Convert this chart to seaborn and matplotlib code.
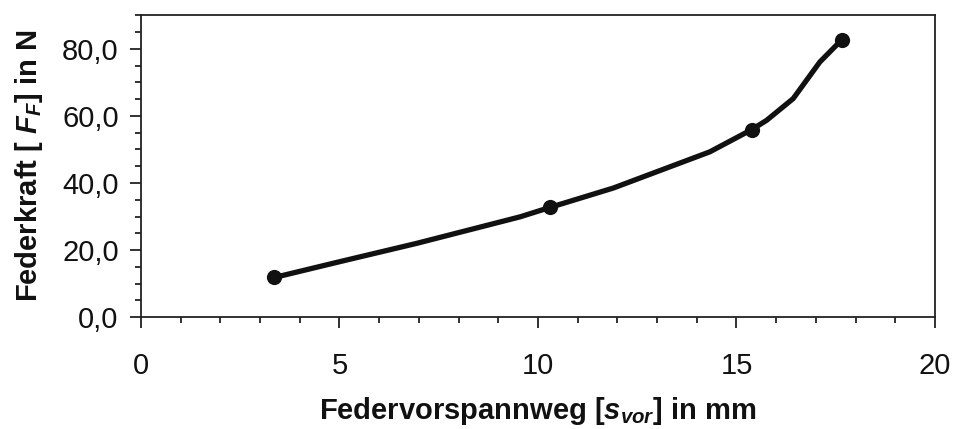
import numpy as np
import pandas as pd
import matplotlib
matplotlib.use("Agg")
import matplotlib.pyplot as plt
from matplotlib.ticker import MultipleLocator, FuncFormatter
import seaborn as sns

# Federvorspannweg (mm) vs Federkraft (N)
weg_kurve = [3.36, 5.0, 6.95, 9.55, 10.3, 11.9, 14.33, 15.38, 15.76, 16.43, 17.1, 17.65]
kraft_kurve = [11.8, 16.5, 22.0, 29.9, 32.7, 38.5, 49.3, 55.9, 58.7, 65.2, 76.1, 82.7]
# measured points (markers)
weg_mess = [3.36, 10.3, 15.38, 17.65]
kraft_mess = [11.8, 32.7, 55.9, 82.7]

kurve = pd.DataFrame({'weg': weg_kurve, 'kraft': kraft_kurve})
mess = pd.DataFrame({'weg': weg_mess, 'kraft': kraft_mess})

sns.set_style('ticks')
plt.rcParams['font.family'] = ['Liberation Sans', 'DejaVu Sans']
plt.rcParams['mathtext.fontset'] = 'custom'
plt.rcParams['mathtext.it'] = 'Liberation Sans:bold:italic'
plt.rcParams['mathtext.rm'] = 'Liberation Sans:bold'
plt.rcParams['mathtext.bf'] = 'Liberation Sans:bold'

fig = plt.figure(figsize=(9.55, 4.29), dpi=100)
ax = fig.add_axes([0.1476, 0.261, 0.8314, 0.703])

sns.lineplot(data=kurve, x='weg', y='kraft', ax=ax, color='#111111', linewidth=3.8,
             sort=False, estimator=None)
sns.scatterplot(data=mess, x='weg', y='kraft', ax=ax, color='#111111', s=120,
                edgecolor='#111111', linewidth=0, zorder=5)

ax.set_xlim(0, 20)
ax.set_ylim(0, 90)
ax.xaxis.set_major_locator(MultipleLocator(5))
ax.xaxis.set_minor_locator(MultipleLocator(1))
ax.yaxis.set_major_locator(MultipleLocator(20))
ax.yaxis.set_minor_locator(MultipleLocator(5))
ax.yaxis.set_major_formatter(FuncFormatter(lambda v, p: f"{v:.1f}".replace('.', ',')))

for s in ax.spines.values():
    s.set_color('#222222')
    s.set_linewidth(1.3)

ax.tick_params(axis='both', which='major', direction='out', length=8, width=1.3,
               color='#222222', labelsize=21, labelcolor='#111111')
ax.tick_params(axis='both', which='minor', direction='out', length=4.5, width=1.3,
               color='#222222')
ax.tick_params(axis='x', which='major', pad=17)
ax.tick_params(axis='y', which='major', pad=8)

ax.set_xlabel(r'Federvorspannweg [$s_{vor}$] in mm', fontsize=21, fontweight='bold',
              labelpad=11, color='#111111')
ax.set_ylabel(r'Federkraft [ $F_F$] in N', fontsize=21, fontweight='bold',
              labelpad=12, color='#111111')

fig.savefig('out.png', dpi=100)
